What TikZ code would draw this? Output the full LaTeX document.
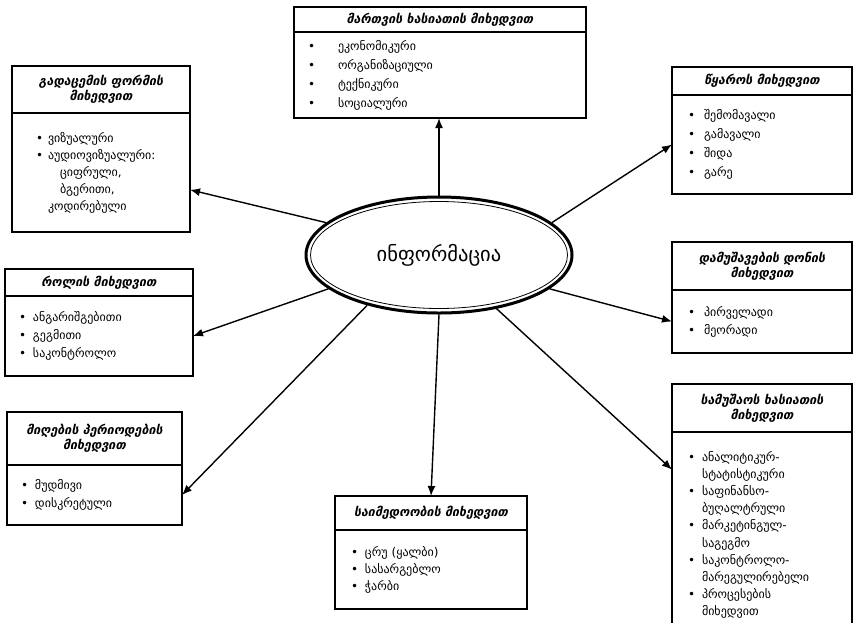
\documentclass[tikz,border=0pt]{standalone}
\usepackage{fontspec}
\setmainfont{DejaVu Sans}
\usetikzlibrary{shapes.geometric,positioning,arrows.meta}

\newcommand{\bul}[1][14pt]{\makebox[#1][l]{\textbullet}}
\newcommand{\hd}{\bfseries\itshape\fontsize{12.5}{15}\selectfont}

\begin{document}
\begin{tikzpicture}[x=1pt,y=-1pt,
    head/.style={draw, line width=1.2pt, outer sep=0pt, inner sep=2pt, align=center, font=\hd},
    body/.style={draw, line width=1.2pt, outer sep=0pt, inner xsep=14pt, inner ysep=4pt, align=left, font=\fontsize{12}{18}\selectfont},
    arr/.style={line width=1.4pt, -{Latex[length=10pt,width=8pt]}}]
    \useasboundingbox (0,0) rectangle (856,622);
    \clip (0,0) rectangle (856,622);

    % centre
    \node[ellipse, draw, line width=3pt, minimum width=266, minimum height=116, inner sep=0pt] (info) at (439,255) {\fontsize{20.5}{24}\selectfont ინფორმაცია};
    \draw[line width=0.8pt] (info.center) ellipse [x radius=128.5, y radius=53.5];

    % boxes
    \node[head, anchor=north west, minimum width=292, minimum height=25] (martH) at (294,7) {მართვის ხასიათის მიხედვით};
    \node[body, below=0pt of martH, minimum width=292, minimum height=86, text width=264, font=\fontsize{12}{19}\selectfont] (martB)
        {\bul[30pt]ეკონომიკური\\ \bul[30pt]ორგანიზაციული\\ \bul[30pt]ტექნიკური\\ \bul[30pt]სოციალური};

    \node[head, anchor=north west, minimum width=178, minimum height=47] (gadacH) at (12,66) {გადაცემის ფორმის\\მიხედვით};
    \node[body, below=0pt of gadacH, minimum width=178, minimum height=119, inner xsep=24pt, text width=130, font=\fontsize{12}{17}\selectfont] (gadacB)
        {\bul[12pt]ვიზუალური\\ \bul[12pt]აუდიოვიზუალური:\\ \hspace*{24pt}ციფრული,\\ \hspace*{24pt}ბგერითი,\\ \hspace*{12pt}კოდირებული};

    \node[head, anchor=north west, minimum width=180, minimum height=28] (tsqH) at (672,67) {წყაროს მიხედვით};
    \node[body, below=0pt of tsqH, minimum width=180, minimum height=99, inner xsep=16pt, text width=148, font=\fontsize{12}{19}\selectfont] (tsqB)
        {\bul[16pt]შემომავალი\\ \bul[16pt]გამავალი\\ \bul[16pt]შიდა\\ \bul[16pt]გარე};

    \node[head, anchor=north west, minimum width=180, minimum height=48] (damushH) at (672,242) {დამუშავების დონის\\მიხედვით};
    \node[body, below=0pt of damushH, minimum width=180, minimum height=63, inner xsep=16pt, text width=148] (damushB)
        {\bul[16pt]პირველადი\\ \bul[16pt]მეორადი};

    \node[head, anchor=north west, minimum width=188, minimum height=27] (rolH) at (5,269) {როლის მიხედვით};
    \node[body, below=0pt of rolH, minimum width=188, minimum height=80, text width=160] (rolB)
        {\bul ანგარიშგებითი\\ \bul გეგმითი\\ \bul საკონტროლო};

    \node[head, anchor=north west, minimum width=175, minimum height=53] (mighH) at (7,412) {მიღების პერიოდების\\მიხედვით};
    \node[body, below=0pt of mighH, minimum width=175, minimum height=60, text width=147] (mighB)
        {\bul მუდმივი\\ \bul დისკრეტული};

    \node[head, anchor=north west, minimum width=192, minimum height=34] (saimH) at (335,496) {საიმედოობის მიხედვით};
    \node[body, below=0pt of saimH, minimum width=192, minimum height=79, inner xsep=16pt, text width=160, font=\fontsize{12}{17}\selectfont] (saimB)
        {\bul ცრუ (ყალბი)\\ \bul სასარგებლო\\ \bul ჭარბი};

    \node[head, anchor=north west, minimum width=180, minimum height=48] (samushH) at (672,384) {სამუშაოს ხასიათის\\მიხედვით};
    \node[body, below=0pt of samushH, minimum width=180, minimum height=206, inner xsep=16pt, text width=148, font=\fontsize{12}{17.2}\selectfont] (samushB)
        {\bul ანალიტიკურ-\\ \hspace*{14pt}სტატისტიკური\\
         \bul საფინანსო-\\ \hspace*{14pt}ბუღალტრული\\
         \bul მარკეტინგულ-\\ \hspace*{14pt}საგეგმო\\
         \bul საკონტროლო-\\ \hspace*{14pt}მარეგულირებელი\\
         \bul პროცესების\\ \hspace*{14pt}მიხედვით};

    % arrows
    \draw[arr] (info.north) -- (info.north |- martB.south);
    \draw[arr] (info.164) -- (gadacB.-11);
    \draw[arr] (info.16) -- (tsqB.west);
    \draw[arr] (info.-17) -- (damushB.west);
    \draw[arr] (info.197) -- (rolB.east);
    \draw[arr] (info.215) -- (mighB.east);
    \draw[arr] (info.south) -- (saimH.north);
    \draw[arr] (info.-43) -- (samushB.144);
\end{tikzpicture}
\end{document}
